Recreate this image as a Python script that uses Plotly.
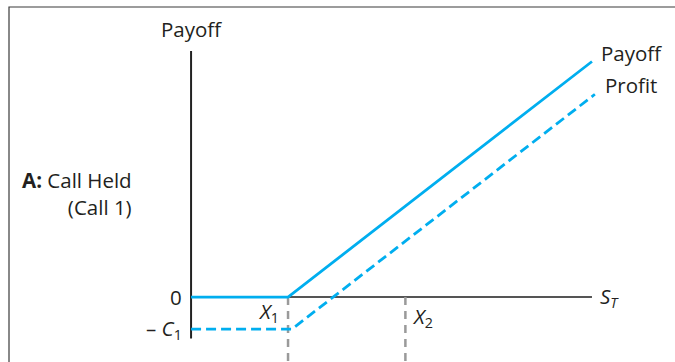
import plotly.graph_objects as go

# ---- data (abstract price/payoff units) ----
strike_1 = 50.0          # X1
strike_2 = 110.5         # X2
premium_1 = 21.3         # C1
s_values = [0.0, strike_1, 206.7]
payoff_values = [max(s - strike_1, 0.0) for s in s_values]
profit_s_values = [0.0, strike_1 + 2.0, 208.2]
profit_values = [max(s - strike_1 - 2.0, 0.0) - premium_1 for s in profit_s_values]
axis_x_end = 206.7
axis_y_top = 163.7
axis_y_bottom = -27.5

CYAN = "#00AEEF"
FONT = "Open Sans"
FS = 20.5

fig = go.Figure()
fig.add_trace(go.Scatter(x=s_values, y=payoff_values, mode="lines",
                         line=dict(color=CYAN, width=2.8), hoverinfo="skip"))
fig.add_trace(go.Scatter(x=profit_s_values, y=profit_values, mode="lines",
                         line=dict(color=CYAN, width=2.8, dash="10px,5px"), hoverinfo="skip"))

shapes = [
    # frame
    dict(type="rect", xref="paper", yref="paper", x0=9/675, y0=-0.2, x1=1.2, y1=1-7/362,
         line=dict(color="#3a3a3a", width=1.2), layer="below"),
    # vertical axis
    dict(type="line", x0=0, x1=0, y0=axis_y_bottom, y1=axis_y_top,
         line=dict(color="#222222", width=2), layer="below"),
    # horizontal axis
    dict(type="line", x0=0, x1=axis_x_end, y0=0, y1=0,
         line=dict(color="#555555", width=2), layer="below"),
    # strike guide lines
    dict(type="line", x0=strike_1, x1=strike_1, y0=0, y1=-60,
         line=dict(color="#9a9a9a", width=2.5, dash="8px,6px"), layer="below"),
    dict(type="line", x0=strike_2, x1=strike_2, y0=0, y1=-60,
         line=dict(color="#9a9a9a", width=2.5, dash="8px,6px"), layer="below"),
]

ann_font = dict(family=FONT, size=FS, color="#231f20")
annotations = [
    dict(x=0, y=167.5, text="Payoff", showarrow=False, xanchor="center", yanchor="bottom",
         font=ann_font),
    dict(x=210.3, y=162.3, text="Payoff", showarrow=False, xanchor="left", yanchor="middle", font=ann_font),
    dict(x=212.4, y=141.0, text="Profit", showarrow=False, xanchor="left", yanchor="middle", font=ann_font),
    dict(x=-3.5, y=0, text="0", showarrow=False, xanchor="right", yanchor="middle", font=ann_font),
    dict(x=-3.5, y=-premium_1, text="– <i>C</i><sub>1</sub>", showarrow=False, xanchor="right",
         yanchor="middle", font=ann_font),
    dict(x=46.5, y=-10.0, text="<i>X</i><sub>1</sub>", showarrow=False, xanchor="right",
         yanchor="middle", font=ann_font),
    dict(x=113.0, y=-13.5, text="<i>X</i><sub>2</sub>", showarrow=False, xanchor="left",
         yanchor="middle", font=ann_font),
    dict(x=210.0, y=0, text="<i>S</i><sub><i>T</i></sub>", showarrow=False, xanchor="left",
         yanchor="middle", font=ann_font),
    dict(x=-29.5, y=69.2, text="<b>A:</b> Call Held<br>(Call 1)", showarrow=False, xanchor="right",
         yanchor="middle", align="right", font=ann_font),
]

fig.update_layout(
    width=675, height=362,
    margin=dict(l=0, r=0, t=0, b=0),
    paper_bgcolor="white", plot_bgcolor="white",
    showlegend=False,
    xaxis=dict(range=[-98.5, 249.5], visible=False, fixedrange=True),
    yaxis=dict(range=[-43.2, 197.6], visible=False, fixedrange=True),
    shapes=shapes,
    annotations=annotations,
)

fig.write_html("out.html", config={"displayModeBar": False},
               post_script="document.body.style.margin='0';document.body.style.overflow='hidden';")
